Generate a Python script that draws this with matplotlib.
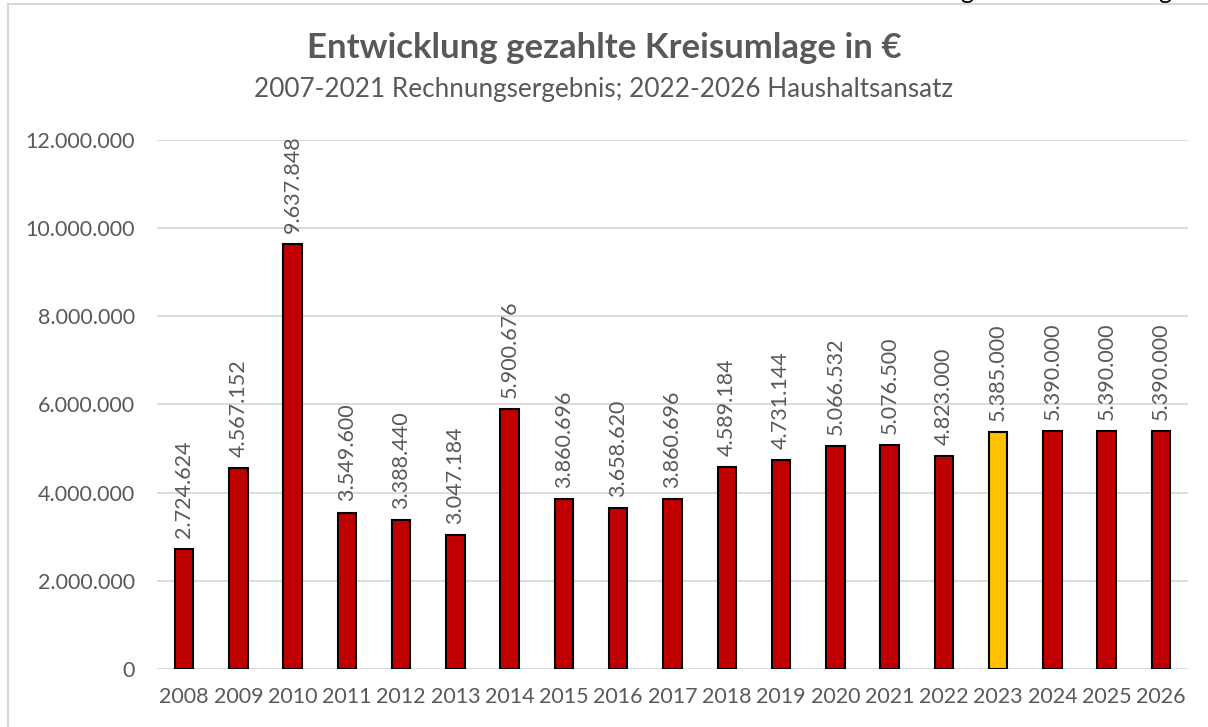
import matplotlib
matplotlib.use("Agg")
import matplotlib.pyplot as plt
from matplotlib.lines import Line2D
from matplotlib.ticker import FuncFormatter

years = ["2008", "2009", "2010", "2011", "2012", "2013", "2014", "2015", "2016", "2017",
         "2018", "2019", "2020", "2021", "2022", "2023", "2024", "2025", "2026"]
values = [2724624, 4567152, 9637848, 3549600, 3388440, 3047184, 5900676, 3860696, 3658620,
          3860696, 4589184, 4731144, 5066532, 5076500, 4823000, 5385000, 5390000, 5390000, 5390000]
highlight_year = "2023"
title = "Entwicklung gezahlte Kreisumlage in €"
subtitle = "2007-2021 Rechnungsergebnis; 2022-2026 Haushaltsansatz"
y_ticks = [0, 2000000, 4000000, 6000000, 8000000, 10000000, 12000000]

W, H = 1208, 727
plt.rcParams['font.family'] = ['Lato', 'DejaVu Sans']
txt = '#595959'

fig = plt.figure(figsize=(W / 100, H / 100), dpi=100)
ax = fig.add_axes([157 / W, 1 - 669 / H, (1188 - 157) / W, (669 - 140) / H])

def fmt(v):
    return f"{int(v):,}".replace(",", ".")

colors = ['#FFC000' if y == highlight_year else '#C00000' for y in years]
x = list(range(len(years)))
ax.bar(x, values, width=0.34, color=colors, edgecolor='black', linewidth=1.5, zorder=3)

for xi, v in zip(x, values):
    ax.annotate(fmt(v), (xi, v), xytext=(0, 8), textcoords='offset points',
                rotation=90, ha='center', va='bottom', fontsize=15.5, color=txt)

ax.set_xlim(-0.5, len(years) - 0.5)
ax.set_ylim(0, 12000000)
ax.set_yticks(y_ticks)
ax.yaxis.set_major_formatter(FuncFormatter(lambda v, p: fmt(v)))
ax.set_xticks(x)
ax.set_xticklabels(years)
ax.tick_params(axis='both', length=0, labelsize=15.5, colors=txt)
ax.tick_params(axis='y', pad=16)
ax.tick_params(axis='x', pad=13)
ax.grid(axis='y', color='#D9D9D9', linewidth=1.3, zorder=0)
for s in ax.spines.values():
    s.set_visible(False)

fig.text(0.5, 1 - 48 / H, title, ha='center', va='center', fontsize=25,
         fontweight='bold', color=txt)
fig.text(0.5, 1 - 89 / H, subtitle, ha='center', va='center', fontsize=18.8, color=txt)

# chart border (partially visible)
fig.add_artist(Line2D([8 / W, 8 / W], [0, 1 - 4 / H], color='#D9D9D9', linewidth=1.5,
                      transform=fig.transFigure))
fig.add_artist(Line2D([8 / W, 1], [1 - 4 / H, 1 - 4 / H], color='#D9D9D9', linewidth=1.5,
                      transform=fig.transFigure))
# clipped text from above the chart
for gx in (967, 1165):
    fig.text(gx / W, 1 + 1 / H, "g", ha='center', va='baseline', fontsize=18, color='black')

fig.savefig("out.png", dpi=100)
